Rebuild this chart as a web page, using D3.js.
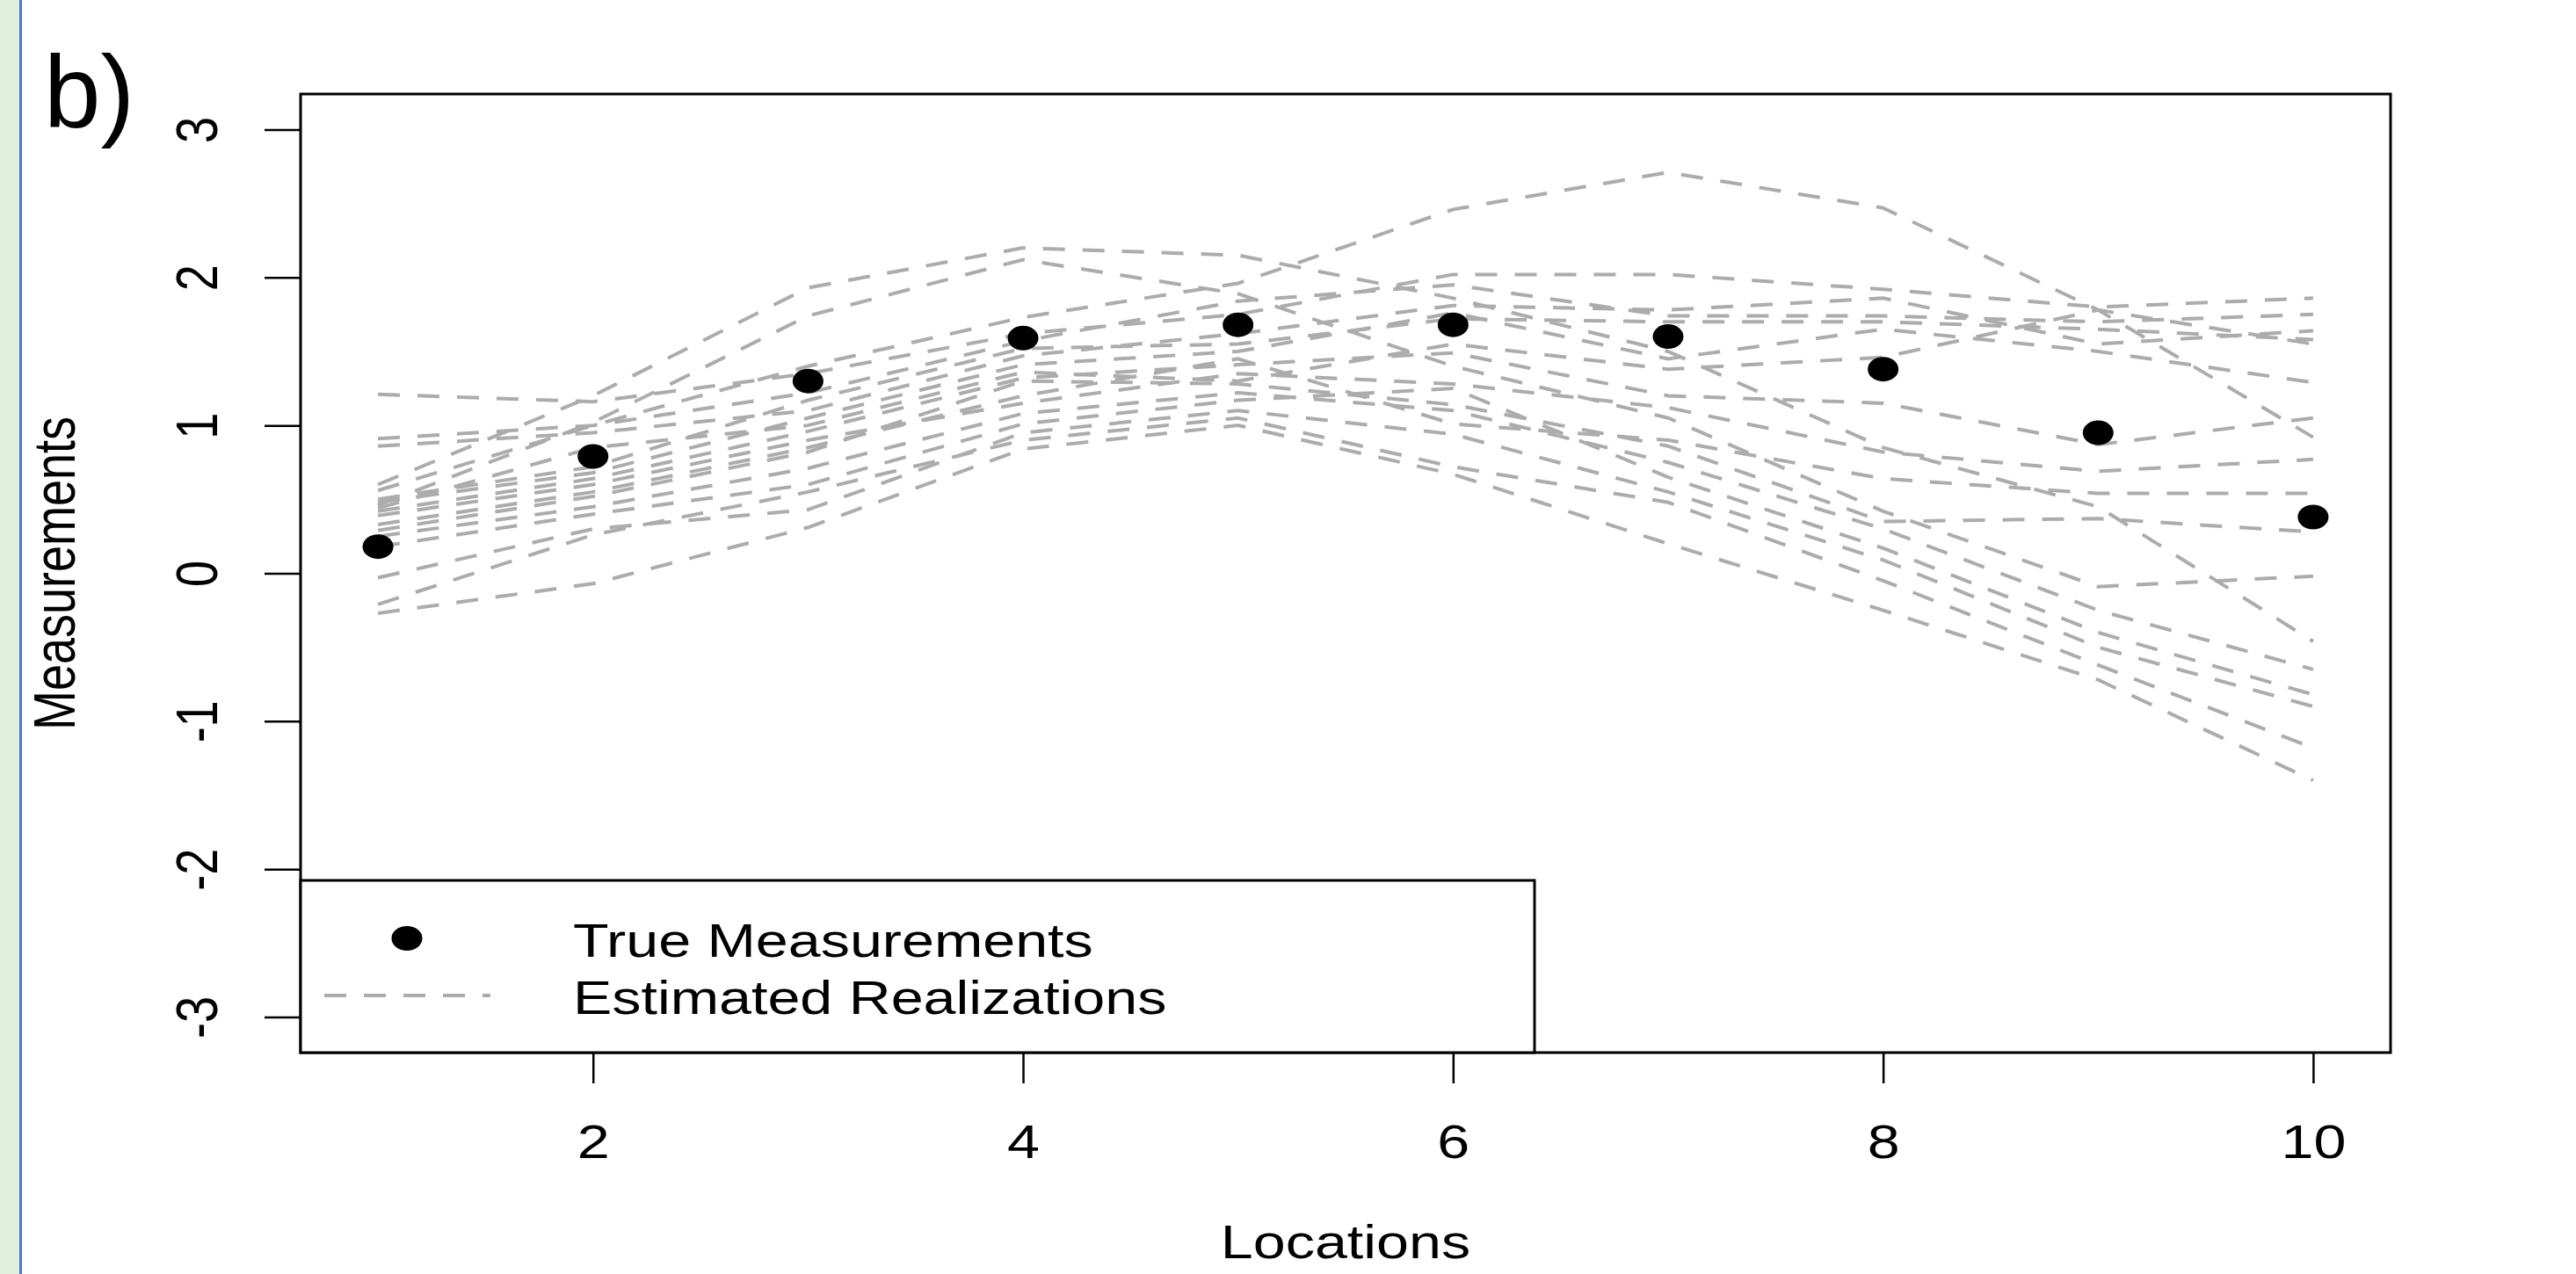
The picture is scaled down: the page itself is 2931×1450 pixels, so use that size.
<!DOCTYPE html>
<html>
<head>
    <meta charset="utf-8">
    <title></title>
    <script src="https://cdn.jsdelivr.net/npm/d3@7"></script>
    <style>
        * {
            margin: 0;
            padding: 0;
        }
        body {
            background: #ffffff;
        }
        #chart {
            width: 2931px;
            height: 1450px;
        }
    </style>
</head>
<body>
    <div id="chart"></div>

    <script>
        // locations on the x axis
        var locations = [1, 2, 3, 4, 5, 6, 7, 8, 9, 10];

        // the black dots
        var trueMeasurements = [0.18, 0.79, 1.30, 1.59, 1.68, 1.68, 1.60, 1.38, 0.95, 0.38];

        // grey dashed realizations, one array per line
        var real01 = [0.56, 1.00, 1.40, 1.73, 1.96, 2.46, 2.71, 2.47, 1.78, 0.92];
        var real02 = [0.60, 1.20, 1.93, 2.20, 2.15, 1.86, 1.50, 0.85, 0.45, -0.46];
        var real03 = [0.46, 1.02, 1.74, 2.12, 1.89, 1.40, 1.05, 0.42, -0.09, -0.02];
        var real04 = [1.21, 1.16, 1.35, 1.62, 1.75, 2.02, 2.02, 1.92, 1.80, 1.86];
        var real05 = [0.91, 1.00, 1.22, 1.57, 1.84, 1.95, 1.74, 1.74, 1.70, 1.75];
        var real06 = [0.86, 0.95, 1.10, 1.47, 1.62, 1.81, 1.78, 1.86, 1.55, 1.64];
        var real07 = [0.50, 0.72, 1.17, 1.52, 1.55, 1.72, 1.70, 1.70, 1.65, 1.58];
        var real08 = [0.48, 0.68, 1.05, 1.41, 1.50, 1.76, 1.45, 1.65, 1.50, 1.29];
        var real09 = [0.44, 0.85, 1.00, 1.36, 1.30, 1.55, 1.38, 1.46, 1.78, 1.55];
        var real10 = [0.42, 0.64, 0.96, 1.32, 1.41, 1.49, 1.20, 1.15, 0.87, 1.05];
        var real11 = [0.39, 0.60, 0.90, 1.15, 1.35, 1.28, 1.12, 0.82, 0.69, 0.77];
        var real12 = [0.33, 0.55, 0.85, 1.20, 1.45, 1.01, 0.90, 0.64, 0.54, 0.54];
        var real13 = [0.29, 0.52, 0.82, 1.30, 1.28, 1.14, 0.86, 0.35, 0.37, 0.28];
        var real14 = [0.25, 0.45, 0.71, 1.08, 1.22, 1.10, 0.75, 0.30, -0.25, -0.65];
        var real15 = [0.18, 0.40, 0.60, 1.01, 1.17, 1.25, 0.65, 0.17, -0.40, -0.82];
        var real16 = [-0.03, 0.30, 0.43, 0.95, 1.10, 0.94, 0.55, 0.09, -0.50, -0.90];
        var real17 = [-0.21, 0.26, 0.55, 0.90, 1.05, 0.72, 0.48, -0.05, -0.62, -1.18];
        var real18 = [-0.27, -0.07, 0.31, 0.84, 1.00, 0.67, 0.20, -0.25, -0.72, -1.40];

        var xTicks = [2, 4, 6, 8, 10];
        var yTicks = [-3, -2, -1, 0, 1, 2, 3];
        var legendLabels = ["True Measurements", "Estimated Realizations"];

        var realizations = [real01, real02, real03, real04, real05, real06, real07, real08, real09,
            real10, real11, real12, real13, real14, real15, real16, real17, real18];

        var W = 2931, H = 1450;
        var box = { left: 342, right: 2720, top: 107, bottom: 1198 };
        var stretch = 1.23;   // the figure is a bit wider than tall
        var font = "'Liberation Sans', Arial, sans-serif";
        var grey = "#acacac";
        var dash = "25,20";

        var svg = d3.select("#chart")
            .append("svg")
            .attr("width", W)
            .attr("height", H);

        // green margin strip on the left
        svg.append("rect")
            .attr("x", 0).attr("y", 0)
            .attr("width", 22).attr("height", H)
            .attr("fill", "#e2efda");
        svg.append("line")
            .attr("x1", 23.5).attr("x2", 23.5)
            .attr("y1", 0).attr("y2", H)
            .attr("stroke", "#4a78cc")
            .attr("stroke-width", 3);

        svg.append("text")
            .attr("x", 50)
            .attr("y", 145)
            .attr("font-family", font)
            .attr("font-size", 116)
            .text("b)");

        var x = d3.scaleLinear()
            .domain([0.64, 10.36])
            .range([box.left, box.right]);

        var y = d3.scaleLinear()
            .domain([-3.24, 3.24])
            .range([box.bottom, box.top]);

        // realizations
        var line = d3.line()
            .x(function (d, i) { return x(locations[i]); })
            .y(function (d) { return y(d); });

        svg.append("g")
            .selectAll("path")
            .data(realizations)
            .enter()
            .append("path")
            .attr("d", line)
            .attr("fill", "none")
            .attr("stroke", grey)
            .attr("stroke-width", 4)
            .attr("stroke-dasharray", dash);

        // true measurements
        svg.append("g")
            .selectAll("ellipse")
            .data(trueMeasurements)
            .enter()
            .append("ellipse")
            .attr("cx", function (d, i) { return x(locations[i]); })
            .attr("cy", function (d) { return y(d); })
            .attr("rx", 17.5)
            .attr("ry", 14)
            .attr("fill", "#000");

        // axes
        var fmt = function (d) { return String(d); };

        var xAxis = svg.append("g")
            .attr("transform", "translate(0," + box.bottom + ")")
            .call(d3.axisBottom(x).tickValues(xTicks).tickFormat(fmt).tickSize(35).tickSizeOuter(0));
        xAxis.select(".domain").remove();
        xAxis.selectAll("line").attr("stroke-width", 2.5);
        xAxis.selectAll("text")
            .attr("y", null).attr("dy", null)
            .attr("transform", "translate(0,120) scale(" + stretch + ",1)")
            .attr("font-family", font)
            .attr("font-size", 54)
            .attr("fill", "#000");

        var yAxis = svg.append("g")
            .attr("transform", "translate(" + box.left + ",0)")
            .call(d3.axisLeft(y).tickValues(yTicks).tickFormat(fmt).tickSize(41).tickSizeOuter(0));
        yAxis.select(".domain").remove();
        yAxis.selectAll("line").attr("stroke-width", 2.5);
        yAxis.selectAll("text")
            .attr("x", null).attr("dy", null)
            .attr("text-anchor", "middle")
            .attr("transform", "translate(-95,0) scale(" + stretch + ",1) rotate(-90)")
            .attr("font-family", font)
            .attr("font-size", 54)
            .attr("fill", "#000");

        // plot frame
        svg.append("rect")
            .attr("x", box.left).attr("y", box.top)
            .attr("width", box.right - box.left)
            .attr("height", box.bottom - box.top)
            .attr("fill", "none")
            .attr("stroke", "#000")
            .attr("stroke-width", 3);

        // axis titles
        svg.append("text")
            .attr("transform", "translate(" + (box.left + box.right) / 2 + ",1432) scale(" + stretch + ",1)")
            .attr("text-anchor", "middle")
            .attr("font-family", font)
            .attr("font-size", 54)
            .text("Locations");

        svg.append("text")
            .attr("transform", "translate(85," + (box.top + box.bottom) / 2 + ") scale(" + stretch + ",1) rotate(-90)")
            .attr("text-anchor", "middle")
            .attr("font-family", font)
            .attr("font-size", 54)
            .text("Measurements");

        // legend
        var leg = svg.append("g");
        leg.append("rect")
            .attr("x", box.left).attr("y", 1002)
            .attr("width", 1746 - box.left)
            .attr("height", box.bottom - 1002)
            .attr("fill", "#fff")
            .attr("stroke", "#000")
            .attr("stroke-width", 3);
        leg.append("ellipse")
            .attr("cx", 463).attr("cy", 1068)
            .attr("rx", 17.5).attr("ry", 14)
            .attr("fill", "#000");
        leg.append("line")
            .attr("x1", 369).attr("x2", 558)
            .attr("y1", 1133).attr("y2", 1133)
            .attr("stroke", grey)
            .attr("stroke-width", 4)
            .attr("stroke-dasharray", dash);
        leg.selectAll(".leg")
            .data(legendLabels)
            .enter()
            .append("text")
            .attr("transform", function (d, i) {
                return "translate(652," + (1089 + 65 * i) + ") scale(" + stretch + ",1)";
            })
            .attr("font-family", font)
            .attr("font-size", 54)
            .text(function (d) { return d; });
    </script>
</body>
</html>
